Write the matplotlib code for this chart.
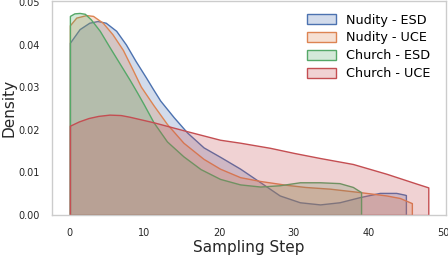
import matplotlib
matplotlib.use("Agg")
import matplotlib.pyplot as plt
from matplotlib.colors import to_rgba
from matplotlib.patches import Patch

# density curves (x = sampling step, y = density)
nud_esd_x = [0, 1.3, 2.6, 3.7, 4.8, 6.2, 7.5, 8.8, 10.2, 11.1, 12.1, 13.9, 15.7, 17.9, 20.1, 22.8, 25.5, 28.1,
             30.8, 33.5, 36.1, 38.8, 41.5, 43.7, 44.8, 45]
nud_esd_y = [.0405, .0437, .0452, .0456, .0452, .0433, .0401, .0362, .0323, .0297, .0269, .0230, .0194, .0159,
             .0137, .0109, .0077, .0046, .0030, .0025, .0030, .0042, .0052, .0052, .0048, .0047]

nud_uce_x = [0, 0.85, 2.2, 3.1, 4.4, 5.7, 7.1, 8.4, 9.5, 11.2, 13.0, 15.2, 17.9, 20.1, 22.8, 25.5, 29.0, 31.5,
             34.8, 38.8, 42.4, 44.2, 45.8]
nud_uce_y = [.0446, .0464, .0470, .0468, .0452, .0425, .0388, .0342, .0302, .0258, .0214, .0170, .0132, .0109,
             .0089, .0080, .0071, .0066, .0062, .0054, .0046, .0040, .0028]

chu_esd_x = [0, 0.6, 1.3, 2.0, 2.8, 4.0, 5.3, 6.6, 8.0, 9.0, 9.9, 11.2, 13.0, 15.2, 17.5, 20.1, 22.8, 25.5,
             28.1, 30.8, 33.5, 36.1, 37.9, 38.8, 39]
chu_esd_y = [.0468, .0474, .0475, .0473, .0460, .0433, .0395, .0358, .0318, .0288, .0260, .0218, .0173, .0138,
             .0108, .0085, .0072, .0067, .0070, .0077, .0077, .0075, .0066, .0056, .0054]

chu_uce_x = [0, 1.2, 2.5, 3.8, 5.3, 6.8, 8.0, 11.2, 15.7, 20.1, 22.8, 26.8, 30.0, 33.5, 37.9, 42.4, 46.4, 48]
chu_uce_y = [.0210, .0220, .0228, .0233, .0236, .0235, .0231, .0218, .0197, .0177, .0170, .0158, .0146, .0134,
             .0120, .0097, .0074, .0065]

labels = ["Nudity - ESD", "Nudity - UCE", "Church - ESD", "Church - UCE"]
colors = ["#4C72B0", "#DD8452", "#55A868", "#C44E52"]
series = [(nud_esd_x, nud_esd_y), (nud_uce_x, nud_uce_y), (chu_esd_x, chu_esd_y), (chu_uce_x, chu_uce_y)]

fig = plt.figure(figsize=(4.48, 2.56), dpi=100)
ax = fig.add_axes([0.116, 0.160, 0.88, 0.836])

handles = []
for (x, y), c, lab in zip(series, colors, labels):
    ax.fill_between(x, y, 0, facecolor=to_rgba(c, 0.25), edgecolor=c, linewidth=1)
    handles.append(Patch(facecolor=to_rgba(c, 0.25), edgecolor=c, linewidth=1, label=lab))

ax.set_xlim(-2.4, 50.4)
ax.set_ylim(0, 0.0503)
ax.set_xticks([0, 10, 20, 30, 40, 50])
ax.set_yticks([0, 0.01, 0.02, 0.03, 0.04, 0.05])
ax.set_yticklabels(["0.00", "0.01", "0.02", "0.03", "0.04", "0.05"])
ax.tick_params(length=0, labelsize=7, colors="#262626")
ax.tick_params(axis="x", pad=9)
ax.tick_params(axis="y", pad=9)
for s in ax.spines.values():
    s.set_color("#cccccc")
    s.set_linewidth(1)

ax.set_xlabel("Sampling Step", fontsize=11, color="#262626", labelpad=2)
ax.set_ylabel("Density", fontsize=11, color="#262626", labelpad=1)

ax.legend(handles=handles, loc="upper right", frameon=False, fontsize=9.2,
          handlelength=2.25, handleheight=0.85, handletextpad=0.8, labelspacing=0.38,
          bbox_to_anchor=(0.99, 0.995))

fig.savefig("out.png", dpi=100)
